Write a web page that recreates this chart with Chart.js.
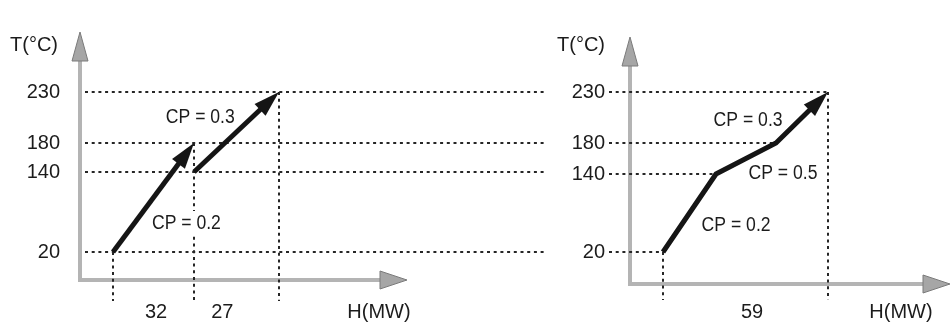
<!DOCTYPE html>
<html>
<head>
<meta charset="utf-8">
<script src="https://cdn.jsdelivr.net/npm/chart.js@4.4.1/dist/chart.umd.min.js"></script>
<style>
  html, body { margin: 0; background: #fff; }
  #wrap { position: relative; width: 951px; height: 323px; overflow: hidden; background: #fff; }
  canvas { position: absolute; top: 0; }
  #left { left: 0; }
  #right { left: 540px; }
</style>
</head>
<body>
<div id="wrap">
  <canvas id="left" width="560" height="323"></canvas>
  <canvas id="right" width="411" height="323"></canvas>
</div>
<script>
// temperatures marked on both T axes
const tempTicks = [20, 140, 180, 230];

// left sketch: the two streams drawn one by one
const stream1H = [0, 32];
const stream1T = [20, 180];
const stream2H = [32, 59];
const stream2T = [140, 230];
const leftSpans = ['32', '27'];
const leftSpanAt = [17, 41];
const leftCpText = ['CP = 0.2', 'CP = 0.3'];
const leftCpH = [29, 34];
const leftCpT = [65, 206];

// right sketch: composite curve
const compH = [0, 24, 44, 59];
const compT = [20, 140, 180, 230];
const rightSpans = ['59'];
const rightSpanAt = [36];
const rightCpText = ['CP = 0.2', 'CP = 0.5', 'CP = 0.3'];
const rightCpH = [30.7, 46, 34.7];
const rightCpT = [63, 142, 203];

// The sketch is not drawn to scale, so every axis is piecewise linear.
// knots are [value, px from the axis origin]
const KNOTS = {
  leftH:  [[0, 33], [32, 114], [59, 199]],
  leftT:  [[20, 28], [140, 108], [180, 137], [230, 188]],
  rightH: [[0, 33], [24, 86], [44, 146], [59, 198]],
  rightT: [[20, 32], [140, 110], [180, 141], [230, 192]]
};

const INK = '#1c1c1c';
const FONT = '"Liberation Sans", Arial, sans-serif';
Chart.defaults.font.family = FONT;
Chart.defaults.color = INK;

// linear interpolation through [x, y] pairs, extending the end segments
function interp(k, v) {
  let i = 1;
  while (i < k.length - 1 && v > k[i][0]) i++;
  const [x0, y0] = k[i - 1];
  const [x1, y1] = k[i];
  return y0 + (v - x0) * (y1 - y0) / (x1 - x0);
}

class KnotScale extends Chart.LinearScale {
  static id = 'knot';
  static defaults = {};

  determineDataLimits() {
    const k = this.options.knots;
    this.min = k[0][0];
    this.max = k[k.length - 1][0];
  }

  buildTicks() {
    return this.options.tickValues.map(v => ({ value: v }));
  }

  getPixelForValue(value) {
    const off = interp(this.options.knots, value);
    return this.isHorizontal() ? this.left + off : this.bottom - off;
  }

  getValueForPixel(pixel) {
    const off = this.isHorizontal() ? pixel - this.left : this.bottom - pixel;
    return interp(this.options.knots.map(([v, p]) => [p, v]), off);
  }
}
Chart.register(KnotScale);

function curve(hs, ts) {
  return {
    data: hs.map((h, i) => ({ x: h, y: ts[i] })),
    borderColor: '#151515',
    borderWidth: 5,
    borderJoinStyle: 'miter',
    borderCapStyle: 'butt',
    pointRadius: 0,
    tension: 0,
    fill: false,
    clip: false
  };
}

function chartOptions(o) {
  return {
    responsive: false,
    animation: false,
    events: [],
    layout: { padding: o.padding },
    plugins: { legend: { display: false }, tooltip: { enabled: false } },
    scales: {
      x: {
        type: 'knot', axis: 'x', position: 'bottom',
        knots: o.knotsH, tickValues: o.spanAt,
        grid: { display: false, drawTicks: false },
        border: { display: false },
        ticks: { padding: o.xPad, autoSkip: false, maxRotation: 0, color: INK, font: { size: 20 },
                 callback: (v, i) => o.spans[i] },
        afterFit: s => { s.height = o.xHeight; }
      },
      y: {
        type: 'knot', axis: 'y', position: 'left',
        knots: o.knotsT, tickValues: tempTicks,
        grid: { display: false, drawTicks: false },
        border: { display: false },
        ticks: { padding: o.yPad, autoSkip: false, color: INK, font: { size: 20 },
                 callback: v => String(v) },
        afterFit: s => { s.width = o.yWidth; }
      }
    }
  };
}

// grey hand-drawn style axes with arrow heads
function drawAxes(ctx, a) {
  ctx.save();
  ctx.strokeStyle = '#b4b4b4';
  ctx.lineWidth = 4;
  ctx.beginPath();
  ctx.moveTo(a.left, a.top + 26);
  ctx.lineTo(a.left, a.bottom);
  ctx.lineTo(a.right - 24, a.bottom);
  ctx.stroke();

  ctx.fillStyle = '#a6a6a6';
  ctx.strokeStyle = '#7a7a7a';
  ctx.lineWidth = 1;
  ctx.beginPath();
  ctx.moveTo(a.left, a.top);
  ctx.lineTo(a.left - 8, a.top + 29);
  ctx.lineTo(a.left + 8, a.top + 29);
  ctx.closePath();
  ctx.fill();
  ctx.stroke();
  ctx.beginPath();
  ctx.moveTo(a.right, a.bottom);
  ctx.lineTo(a.right - 27, a.bottom - 9);
  ctx.lineTo(a.right - 27, a.bottom + 9);
  ctx.closePath();
  ctx.fill();
  ctx.stroke();
  ctx.restore();
}

function cpLabel(ctx, text, cx, cy) {
  ctx.save();
  ctx.font = '20px ' + FONT;
  const w = ctx.measureText(text).width * 0.88;
  ctx.fillStyle = '#fff';
  ctx.fillRect(cx - w / 2 - 2, cy - 11, w + 4, 22);
  ctx.translate(cx, cy);
  ctx.scale(0.88, 1);
  ctx.fillStyle = INK;
  ctx.textAlign = 'center';
  ctx.textBaseline = 'middle';
  ctx.fillText(text, 0, 1);
  ctx.restore();
}

const ARROW_LEN = 26;
const ARROW_HALF = 8;

function arrowGeom(meta) {
  const pts = meta.data;
  const p = pts[pts.length - 1], q = pts[pts.length - 2];
  const len = Math.hypot(p.x - q.x, p.y - q.y);
  const ux = (p.x - q.x) / len, uy = (p.y - q.y) / len;
  return { p, ux, uy, nx: -uy, ny: ux };
}

function sketchPlugin(spec) {
  return {
    id: 'sketch',
    beforeDatasetsDraw(chart) {
      const ctx = chart.ctx, a = chart.chartArea;
      const x = chart.scales.x, y = chart.scales.y;
      drawAxes(ctx, a);

      ctx.save();
      ctx.strokeStyle = '#262626';
      ctx.lineWidth = 2;
      ctx.setLineDash([3, 3.7]);
      const seg = (x0, y0, x1, y1) => {
        ctx.beginPath();
        ctx.moveTo(x0, y0);
        ctx.lineTo(x1, y1);
        ctx.stroke();
      };
      spec.guides(seg, x, y, a);
      ctx.restore();

      ctx.save();
      ctx.fillStyle = INK;
      ctx.font = '20px ' + FONT;
      ctx.textBaseline = 'middle';
      ctx.textAlign = 'left';
      ctx.fillText('T(°C)', spec.tTitle[0], spec.tTitle[1]);
      ctx.textAlign = 'center';
      ctx.fillText('H(MW)', spec.hTitle[0], spec.hTitle[1]);
      ctx.restore();

      spec.cpText.forEach((t, i) => {
        cpLabel(ctx, t, x.getPixelForValue(spec.cpH[i]), y.getPixelForValue(spec.cpT[i]));
      });
    },
    // stop the shaft at the base of the arrow head so the tip stays sharp
    beforeDatasetDraw(chart, args) {
      const ctx = chart.ctx;
      const g = arrowGeom(args.meta);
      const bx = g.p.x - g.ux * (ARROW_LEN - 3), by = g.p.y - g.uy * (ARROW_LEN - 3);
      ctx.save();
      ctx.beginPath();
      ctx.moveTo(bx + g.nx * 2000, by + g.ny * 2000);
      ctx.lineTo(bx - g.nx * 2000, by - g.ny * 2000);
      ctx.lineTo(bx - g.nx * 2000 - g.ux * 4000, by - g.ny * 2000 - g.uy * 4000);
      ctx.lineTo(bx + g.nx * 2000 - g.ux * 4000, by + g.ny * 2000 - g.uy * 4000);
      ctx.closePath();
      ctx.clip();
    },
    afterDatasetDraw(chart, args) {
      const ctx = chart.ctx;
      ctx.restore();
      const g = arrowGeom(args.meta);
      const bx = g.p.x - g.ux * ARROW_LEN, by = g.p.y - g.uy * ARROW_LEN;
      ctx.save();
      ctx.fillStyle = '#151515';
      ctx.beginPath();
      ctx.moveTo(g.p.x, g.p.y);
      ctx.lineTo(bx + g.nx * ARROW_HALF, by + g.ny * ARROW_HALF);
      ctx.lineTo(bx - g.nx * ARROW_HALF, by - g.ny * ARROW_HALF);
      ctx.closePath();
      ctx.fill();
      ctx.restore();
    }
  };
}

// left: separate streams
new Chart(document.getElementById('left'), {
  type: 'line',
  data: { datasets: [curve(stream1H, stream1T), curve(stream2H, stream2T)] },
  options: chartOptions({
    knotsH: KNOTS.leftH, knotsT: KNOTS.leftT,
    spanAt: leftSpanAt, spans: leftSpans,
    padding: { top: 13, right: 153, left: 0, bottom: 0 },
    yWidth: 80, xHeight: 43, yPad: 20, xPad: 20
  }),
  plugins: [sketchPlugin({
    cpText: leftCpText, cpH: leftCpH, cpT: leftCpT,
    tTitle: [10, 45], hTitle: [379, 312],
    guides(seg, x, y, a) {
      tempTicks.forEach(t => {
        const py = y.getPixelForValue(t);
        seg(a.left + 5, py, a.right + 140, py);
      });
      const drops = [[stream1H[0], stream1T[0]], [stream1H[1], stream1T[1]], [stream2H[1], stream2T[1]]];
      drops.forEach(([h, t]) => {
        const px = x.getPixelForValue(h);
        seg(px, y.getPixelForValue(t), px, a.bottom + 21);
      });
    }
  })]
});

// right: composite curve
new Chart(document.getElementById('right'), {
  type: 'line',
  data: { datasets: [curve(compH, compT)] },
  options: chartOptions({
    knotsH: KNOTS.rightH, knotsT: KNOTS.rightT,
    spanAt: rightSpanAt, spans: rightSpans,
    padding: { top: 18, right: 1, left: 0, bottom: 0 },
    yWidth: 90, xHeight: 39, yPad: 25, xPad: 16
  }),
  plugins: [sketchPlugin({
    cpText: rightCpText, cpH: rightCpH, cpT: rightCpT,
    tTitle: [17, 45], hTitle: [361, 312],
    guides(seg, x, y, a) {
      compH.forEach((h, i) => {
        const py = y.getPixelForValue(compT[i]);
        seg(a.left - 21, py, x.getPixelForValue(h), py);
      });
      [0, compH.length - 1].forEach(i => {
        const px = x.getPixelForValue(compH[i]);
        seg(px, y.getPixelForValue(compT[i]), px, a.bottom + 16);
      });
    }
  })]
});
</script>
</body>
</html>
